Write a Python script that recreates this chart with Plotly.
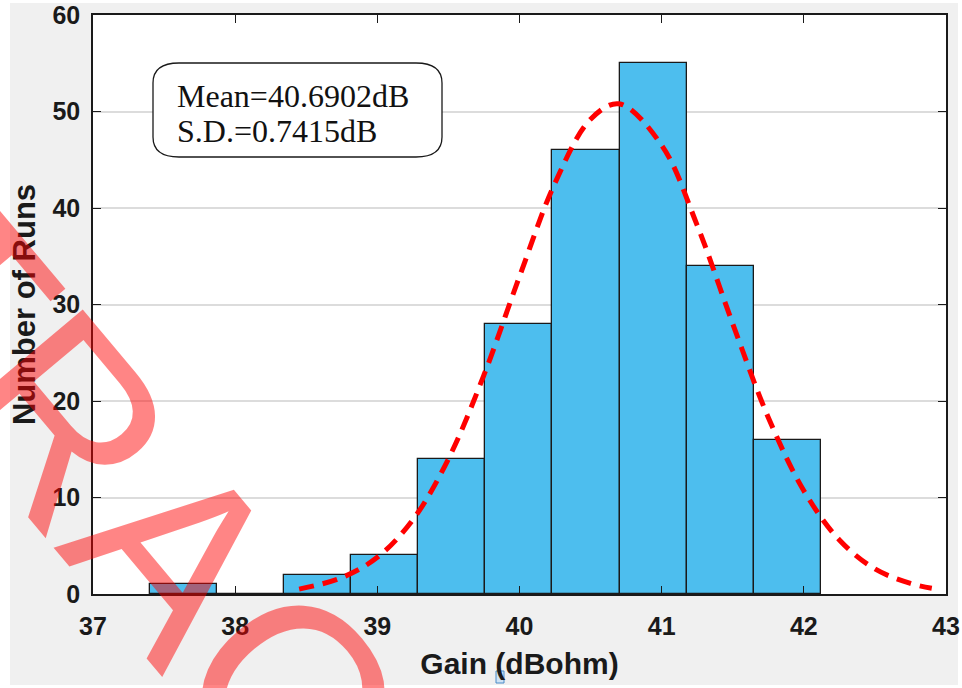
import plotly.graph_objects as go

# ---- data ----
bin_edges = [37.400, 37.872, 38.344, 38.816, 39.288, 39.760, 40.232, 40.704, 41.176, 41.648, 42.120]
counts = [1, 0, 2, 4, 14, 28, 46, 55, 34, 16]

fit_x = [38.45, 38.75, 39.0, 39.25, 39.5, 39.75, 40.0, 40.25, 40.5, 40.7,
         41.0, 41.25, 41.5, 41.75, 42.0, 42.25, 42.5, 42.75, 42.9]
fit_y = [0.5, 1.7, 3.8, 7.7, 14.0, 22.7, 32.9, 42.6, 49.2, 50.8,
         46.5, 38.2, 28.0, 18.3, 10.7, 5.6, 2.6, 1.1, 0.6]

x_ticks = [37, 38, 39, 40, 41, 42, 43]
y_ticks = [0, 10, 20, 30, 40, 50, 60]
stats_lines = ["Mean=40.6902dB", "S.D.=0.7415dB"]

centers = [(a + b) / 2 for a, b in zip(bin_edges[:-1], bin_edges[1:])]
widths = [b - a for a, b in zip(bin_edges[:-1], bin_edges[1:])]

W, H = 962, 688
ML, MR, MT, MB = 93, 16, 15, 94
PW, PH = W - ML - MR, H - MT - MB

def px(X):
    return (X - ML) / PW

def py(Y):
    return (H - MB - Y) / PH

fig = go.Figure()
fig.add_trace(go.Bar(
    x=centers, y=counts, width=widths,
    marker=dict(color="#4DBEEE", line=dict(color="#1a1a1a", width=1.3)),
    showlegend=False, hoverinfo="x+y",
))
fig.add_trace(go.Scatter(
    x=fit_x, y=fit_y, mode="lines",
    line=dict(color="#ff0000", width=5, dash="15px,9px", shape="spline", smoothing=1.0),
    showlegend=False,
))

SANS = "Liberation Sans, Arial, sans-serif"
tick_font = dict(family=SANS, size=25, color="#1a1a1a", weight="bold")

fig.update_xaxes(
    range=[37, 43], tickvals=x_ticks, ticktext=[str(v) for v in x_ticks],
    ticks="inside", ticklen=8, tickwidth=1.3, tickcolor="#1a1a1a",
    showline=True, linecolor="#1a1a1a", linewidth=1.6, mirror="allticks",
    showgrid=False, zeroline=False,
    tickfont=tick_font, ticklabelstandoff=9,
    title=dict(text="<b>Gain (dBohm)</b>", font=dict(family=SANS, size=30, color="#1a1a1a"), standoff=14),
)
fig.update_yaxes(
    range=[0, 60], tickvals=y_ticks, ticktext=[str(v) for v in y_ticks],
    ticks="inside", ticklen=8, tickwidth=1.3, tickcolor="#1a1a1a",
    showline=True, linecolor="#1a1a1a", linewidth=1.6, mirror="allticks",
    showgrid=True, gridcolor="#dcdcdc", gridwidth=1.5, zeroline=False,
    tickfont=tick_font, ticklabelstandoff=6,
    title=dict(text="<b>Number of Runs</b>", font=dict(family=SANS, size=31, color="#1a1a1a"), standoff=8),
)

# rounded stats box
x0, x1 = px(153), px(442)
y0, y1 = py(157), py(63)
rx, ry = 26 / PW, 20 / PH
path = (f"M {x0+rx},{y1} L {x1-rx},{y1} Q {x1},{y1} {x1},{y1-ry} "
        f"L {x1},{y0+ry} Q {x1},{y0} {x1-rx},{y0} L {x0+rx},{y0} "
        f"Q {x0},{y0} {x0},{y0+ry} L {x0},{y1-ry} Q {x0},{y1} {x0+rx},{y1} Z")

shapes = [
    dict(type="rect", xref="paper", yref="paper", x0=px(10), x1=px(958), y0=py(685), y1=py(3),
         fillcolor="#f0f0f0", line=dict(width=0), layer="below"),
    dict(type="rect", xref="paper", yref="paper", x0=0, x1=1, y0=0, y1=1,
         fillcolor="#ffffff", line=dict(width=0), layer="below"),
    dict(type="path", xref="paper", yref="paper", path=path,
         fillcolor="#ffffff", line=dict(color="#1a1a1a", width=1.3), layer="above"),
    dict(type="rect", xref="paper", yref="paper", x0=px(496), x1=px(504), y0=py(683), y1=py(671),
         fillcolor="#cfe3f5", line=dict(color="#4a8cc8", width=1), layer="above"),
]

SERIF = "Liberation Serif, Times New Roman, serif"
annotations = [
    dict(text=stats_lines[0], xref="paper", yref="paper", x=px(175), y=py(96), xanchor="left", yanchor="middle",
         showarrow=False, font=dict(family=SERIF, size=32, color="#111111")),
    dict(text=stats_lines[1], xref="paper", yref="paper", x=px(175), y=py(131), xanchor="left", yanchor="middle",
         showarrow=False, font=dict(family=SERIF, size=32, color="#111111")),
    dict(text="RETRACTED", xref="paper", yref="paper", x=px(176), y=py(555), xanchor="center", yanchor="middle",
         showarrow=False, textangle=50,
         font=dict(family=SANS, size=255, color="rgba(255,0,0,0.48)")),
]

fig.update_layout(
    width=W, height=H, autosize=False,
    margin=dict(l=ML, r=MR, t=MT, b=MB, autoexpand=False),
    paper_bgcolor="#ffffff", plot_bgcolor="rgba(0,0,0,0)",
    bargap=0, shapes=shapes, annotations=annotations,
)

fig.write_html("out.html", config={"displayModeBar": False},
               post_script="document.body.style.margin='0';document.body.style.overflow='hidden';")
